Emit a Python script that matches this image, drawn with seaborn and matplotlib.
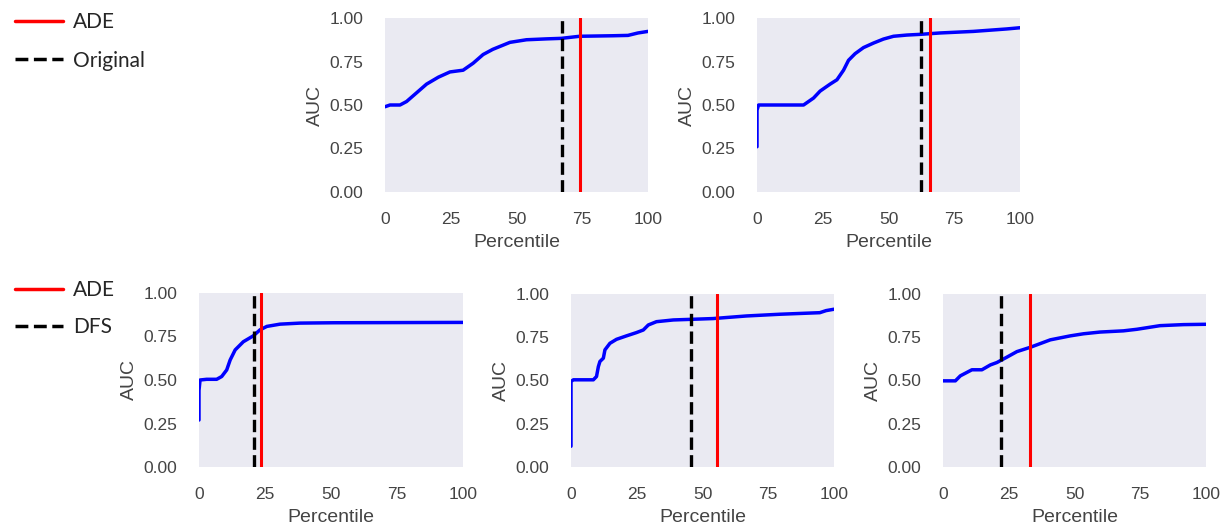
import numpy as np
import pandas as pd
import matplotlib
matplotlib.use('Agg')
import matplotlib.pyplot as plt
import seaborn as sns
from matplotlib.lines import Line2D

# curves (percentile, AUC)
p1_x = [0, 1.9, 5.7, 8.2, 12, 15.8, 20.3, 24.7, 29.7, 33.5, 37.3, 41, 47.5, 53.8, 61.4, 67, 74, 86.7, 92.4, 96.2, 100]
p1_y = [0.49, 0.50, 0.50, 0.52, 0.57, 0.62, 0.66, 0.69, 0.70, 0.74, 0.79, 0.82, 0.86, 0.875, 0.88, 0.883, 0.895, 0.898, 0.90, 0.914, 0.923]

p2_x = [0, 0, 0.6, 2.5, 17.7, 19.6, 21.5, 24, 27.8, 30.4, 32.9, 34.8, 37.3, 40.5, 44.3, 48.1, 51.9, 57, 62, 69.6, 82.3, 94.9, 100]
p2_y = [0.26, 0.47, 0.50, 0.50, 0.50, 0.52, 0.54, 0.58, 0.62, 0.645, 0.70, 0.757, 0.795, 0.83, 0.856, 0.879, 0.895, 0.902, 0.906, 0.914, 0.923, 0.937, 0.944]

p3_x = [0, 0, 0.4, 2.9, 6.7, 8.6, 10.5, 11.8, 13.7, 16.8, 20.6, 23.1, 25.7, 30.7, 38.3, 51, 100]
p3_y = [0.27, 0.44, 0.50, 0.504, 0.504, 0.52, 0.558, 0.615, 0.673, 0.72, 0.754, 0.788, 0.808, 0.821, 0.827, 0.829, 0.831]

p4_x = [0, 0, 0.9, 8.5, 9.7, 10.4, 11, 12.3, 12.9, 14.8, 17.3, 21.1, 24.9, 27.5, 29.4, 32.5, 38.9, 46.5, 54, 66.7, 79.4, 94.6, 97, 100]
p4_y = [0.12, 0.494, 0.504, 0.504, 0.523, 0.58, 0.61, 0.629, 0.677, 0.715, 0.738, 0.758, 0.777, 0.792, 0.821, 0.84, 0.85, 0.854, 0.858, 0.873, 0.883, 0.892, 0.904, 0.912]

p5_x = [0, 4.7, 6.6, 11, 14.8, 18, 20.5, 24.3, 28.1, 33.2, 40.8, 48.4, 53.4, 59.7, 68.6, 73.7, 82.5, 91.4, 100]
p5_y = [0.498, 0.498, 0.527, 0.562, 0.562, 0.59, 0.604, 0.635, 0.667, 0.692, 0.735, 0.758, 0.77, 0.78, 0.787, 0.796, 0.817, 0.823, 0.825]

# vertical markers: baseline (dashed) and ADE (red)
base_lines = [67.2, 62.4, 20.9, 45.8, 22.0]
ade_lines = [74.0, 65.6, 23.4, 55.6, 32.9]

yticks = [0, 0.25, 0.5, 0.75, 1.0]
xticks = [0, 25, 50, 75, 100]

sns.set_style('dark')
plt.rcParams['font.family'] = ['Liberation Sans', 'DejaVu Sans']

fig = plt.figure(figsize=(12.26, 5.29), dpi=100)

W, H = 1226.0, 529.0
# panel boxes in pixels: left, top, right, bottom
boxes = [(385, 18, 648, 192), (757, 18, 1020, 192),
         (199, 293, 463, 467), (571, 294, 834, 467), (943, 294, 1206, 467)]
curves = [(p1_x, p1_y), (p2_x, p2_y), (p3_x, p3_y), (p4_x, p4_y), (p5_x, p5_y)]

for i, (box, (cx, cy)) in enumerate(zip(boxes, curves)):
    l, t, r, b = box
    ax = fig.add_axes([l / W, 1 - b / H, (r - l) / W, (b - t) / H])
    df = pd.DataFrame({'Percentile': cx, 'AUC': cy})
    sns.lineplot(data=df, x='Percentile', y='AUC', ax=ax, color='blue',
                 linewidth=2.5, estimator=None, sort=False)
    ax.axvline(base_lines[i], color='black', linestyle='--', linewidth=2.4)
    ax.axvline(ade_lines[i], color='red', linewidth=2.2)
    ax.set_xlim(0, 100)
    ax.set_ylim(0, 1.0)
    ax.set_xticks(xticks)
    ax.set_yticks(yticks)
    ax.set_yticklabels(['%.2f' % v for v in yticks])
    ax.tick_params(labelsize=12.5, colors='#444444')
    ax.tick_params(axis='x', pad=11)
    ax.tick_params(axis='y', pad=12)
    ax.set_xlabel('Percentile', fontsize=14, color='#444444', labelpad=5)
    ax.set_ylabel('AUC', fontsize=14, color='#444444', labelpad=4)
    for s in ax.spines.values():
        s.set_visible(False)

leg_font = {'family': ['Lato', 'DejaVu Sans'], 'size': 15}
h_ade = Line2D([], [], color='red', linewidth=2.5)
h_org = Line2D([], [], color='black', linestyle='--', linewidth=2.5)

fig.legend([h_ade, h_org], ['ADE', 'Original'], loc='upper left',
           bbox_to_anchor=(0.0, 1.005), frameon=False, prop=leg_font,
           handlelength=2.3, handletextpad=0.5, labelspacing=0.9,
           borderaxespad=0.3)
fig.legend([h_ade, h_org], ['ADE', 'DFS'], loc='upper left',
           bbox_to_anchor=(0.0, 0.498), frameon=False, prop=leg_font,
           handlelength=2.3, handletextpad=0.5, labelspacing=0.8,
           borderaxespad=0.3)

fig.savefig('out.png', dpi=100, facecolor='white')
